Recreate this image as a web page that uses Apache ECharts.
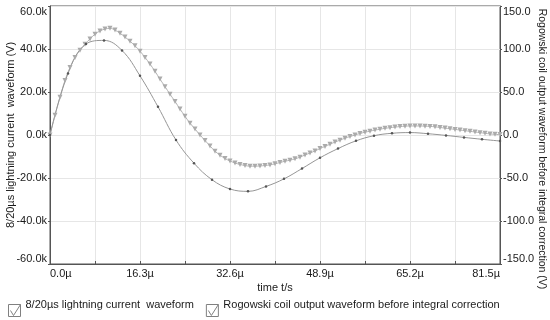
<!DOCTYPE html>
<html>
<head>
<meta charset="utf-8">
<script src="https://cdn.jsdelivr.net/npm/echarts@6/dist/echarts.min.js"></script>
<style>
html,body{margin:0;padding:0;background:#fff;}
#c{width:550px;height:320px;}
</style>
</head>
<body>
<div id="c"></div>
<script>
// ---- data ----
const seriesNames = ['8/20µs lightning current  waveform', 'Rogowski coil output waveform before integral correction'];
const xAxisName = 'time t/s';
const leftAxisName = '8/20µs lightning current  waveform (V)';
const rightAxisName = 'Rogowski coil output waveform before integral correction (V)';

// lightning current waveform: time (µs) and value (k V)
const currentTimes = [0,0.91,1.81,2.72,3.62,4.53,5.43,6.34,7.24,8.15,9.06,9.96,10.87,11.77,12.68,13.58,14.49,15.39,16.30,17.21,18.11,19.02,19.92,20.83,21.73,22.64,23.54,24.45,25.36,26.26,27.17,28.07,28.98,29.88,30.79,31.69,32.60,33.51,34.41,35.32,36.22,37.13,38.03,38.94,39.84,40.75,41.66,42.56,43.47,44.37,45.28,46.18,47.09,47.99,48.90,49.81,50.71,51.62,52.52,53.43,54.33,55.24,56.14,57.05,57.96,58.86,59.77,60.67,61.58,62.48,63.39,64.29,65.20,66.11,67.01,67.92,68.82,69.73,70.63,71.54,72.44,73.35,74.26,75.16,76.07,76.97,77.88,78.78,79.69,80.59,81.50];
const currentKV = [0,9.2,17.6,25.4,31.4,36.1,39.4,42.2,44.7,46.9,48.4,49.3,49.6,48.8,47.3,45.6,43.6,41.5,39.0,36.1,33.0,29.6,26.0,22.5,19.0,15.6,12.1,8.7,5.5,2.8,0.0,-2.5,-5.1,-7.5,-9.4,-10.9,-12.1,-13.0,-13.7,-14.2,-14.5,-14.5,-14.4,-14.2,-13.9,-13.4,-12.8,-12.2,-11.7,-11.1,-10.3,-9.3,-8.4,-7.4,-6.3,-5.3,-4.3,-3.3,-2.4,-1.5,-0.7,0.0,0.7,1.3,1.8,2.3,2.7,3.1,3.4,3.7,3.9,4.1,4.2,4.2,4.2,4.1,4.0,3.8,3.5,3.2,2.9,2.6,2.3,2.0,1.7,1.4,1.1,0.8,0.5,0.3,0.2];

// Rogowski coil output: time (µs) and value (V)
const coilTimes = [0,3.26,6.52,9.78,13.04,16.30,19.56,22.82,26.08,29.34,32.60,35.86,39.12,42.38,45.64,48.90,52.16,55.42,58.68,61.94,65.20,68.46,71.72,74.98,78.24,81.50];
const coilV = [0,71.5,105.8,110.0,98.3,68.8,32.8,-5.8,-32.8,-52.0,-62.8,-65.5,-59.8,-51.0,-39.0,-26.5,-15.8,-6.8,-0.8,2.0,2.8,1.5,-0.5,-2.8,-5.0,-7.0];

// axis ranges / ticks
const xMin = 0, xMax = 81.5, xGridStep = 8.15;
const leftMin = -60, leftMax = 60, leftStep = 20;
const rightMin = -150, rightMax = 150, rightStep = 50;

// ---- chart ----
const chart = echarts.init(document.getElementById('c'), null, {renderer: 'canvas'});
const FONT = 'Liberation Sans, Arial, sans-serif';
const txt = '#1a1a1a';
const axisCol = '#555';
const gridCol = '#e6e6e6';

const option = {
  animation: false,
  textStyle: {fontFamily: FONT},
  grid: {left: 50, right: 50, top: 6, bottom: 56, show: true, borderColor: axisCol, borderWidth: 1, containLabel: false, outerBoundsMode: 'none'},
  legend: {
    left: 8, top: 299, padding: 0, itemGap: 12, itemWidth: 12, itemHeight: 12,
    icon: 'path://M0,0L12,0L12,12L0,12ZM2,6L5,11L12,0',
    itemStyle: {color: 'transparent', borderColor: '#808080', borderWidth: 1},
    formatter: '{t|{name}}',
    textStyle: {
      fontFamily: FONT, fontSize: 11, color: txt,
      rich: {t: {fontFamily: FONT, fontSize: 11, color: txt, padding: [0, 0, 12, 0]}}
    },
    data: seriesNames
  },
  xAxis: {
    type: 'value', min: xMin, max: xMax, interval: xGridStep,
    name: xAxisName, nameLocation: 'middle', nameGap: 18, nameMoveOverlap: false,
    nameTextStyle: {fontFamily: FONT, fontSize: 11, color: txt},
    axisLine: {show: true, onZero: false, lineStyle: {color: axisCol}},
    axisTick: {show: true, inside: true, length: 3, lineStyle: {color: axisCol}},
    splitLine: {show: true, lineStyle: {color: gridCol}},
    axisLabel: {
      fontFamily: FONT, fontSize: 11, color: txt, margin: 4,
      alignMinLabel: 'left', alignMaxLabel: 'right',
      formatter: function (v) {
        const k = Math.round(v / xGridStep);
        return (k % 2 === 0) ? v.toFixed(1) + 'µ' : '';
      }
    }
  },
  yAxis: [
    {
      type: 'value', position: 'left', min: leftMin, max: leftMax, interval: leftStep,
      name: leftAxisName, nameLocation: 'middle', nameGap: 34, nameMoveOverlap: false,
      nameTextStyle: {fontFamily: FONT, fontSize: 11, color: txt},
      axisLine: {show: true, onZero: false, lineStyle: {color: axisCol}},
      axisTick: {show: true, length: 2, lineStyle: {color: axisCol}},
      splitLine: {show: true, lineStyle: {color: gridCol}},
      axisLabel: {
        fontFamily: FONT, fontSize: 11, color: txt, margin: 3,
        verticalAlignMaxLabel: 'top', verticalAlignMinLabel: 'bottom',
        formatter: function (v) { return v.toFixed(1) + 'k'; }
      }
    },
    {
      type: 'value', position: 'right', min: rightMin, max: rightMax, interval: rightStep,
      name: '{n|' + rightAxisName + '}', nameLocation: 'middle', nameGap: 36, nameRotate: -90, nameMoveOverlap: false,
      nameTextStyle: {
        fontFamily: FONT, fontSize: 10.5, color: txt,
        rich: {n: {fontFamily: FONT, fontSize: 10.5, color: txt, padding: [0, 0, 0, 28]}}
      },
      axisLine: {show: true, onZero: false, lineStyle: {color: axisCol}},
      axisTick: {show: true, length: 2, lineStyle: {color: axisCol}},
      splitLine: {show: false},
      axisLabel: {
        fontFamily: FONT, fontSize: 11, color: txt, margin: 3,
        verticalAlignMaxLabel: 'top', verticalAlignMinLabel: 'bottom',
        formatter: function (v) { return v.toFixed(1); }
      }
    }
  ],
  series: [
    {
      name: seriesNames[0], type: 'line', yAxisIndex: 0, smooth: 0.4,
      data: currentTimes.map((t, i) => [t, currentKV[i]]),
      showAllSymbol: true, symbol: 'triangle', symbolRotate: 180, symbolSize: 5,
      itemStyle: {color: '#ababab'},
      lineStyle: {color: '#b0b0b0', width: 1}
    },
    {
      name: seriesNames[1], type: 'line', yAxisIndex: 1, smooth: 0.4,
      data: coilTimes.map((t, i) => [t, coilV[i]]),
      showAllSymbol: true, symbol: 'circle', symbolSize: 2.5,
      itemStyle: {color: '#555'},
      lineStyle: {color: '#959595', width: 1}
    }
  ]
};
chart.setOption(option);
</script>
</body>
</html>
